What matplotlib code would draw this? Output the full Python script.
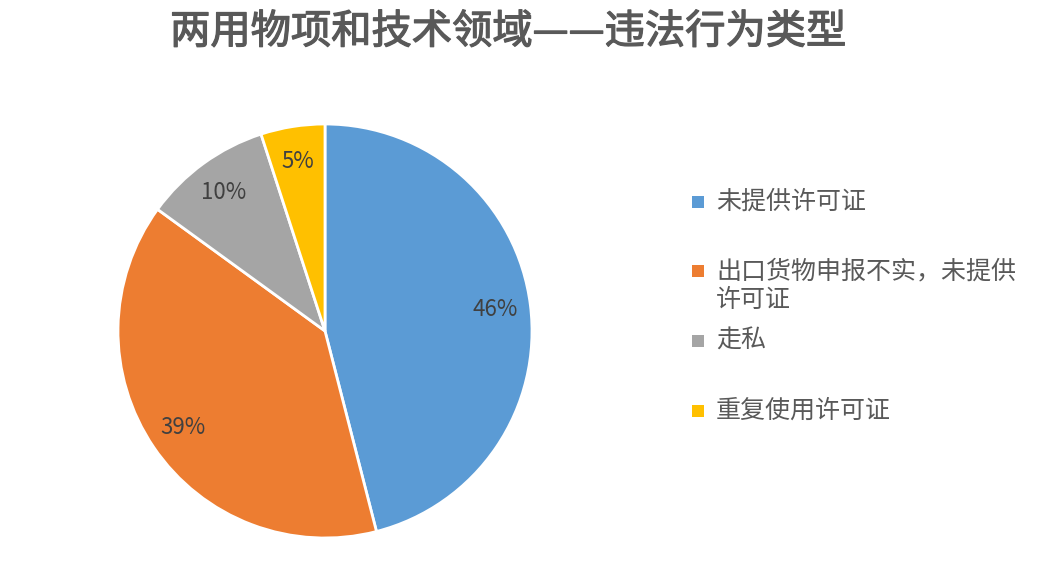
import numpy as np
import matplotlib.pyplot as plt
import matplotlib.patheffects as pe
from matplotlib.patches import Rectangle

plt.rcParams['font.family'] = ['Noto Sans CJK SC', 'DejaVu Sans']

title = '两用物项和技术领域——违法行为类型'
categories = ['未提供许可证', '出口货物申报不实，未提供\n许可证', '走私', '重复使用许可证']
values = [46, 39, 10, 5]
colors = ['#5B9BD5', '#ED7D31', '#A5A5A5', '#FFC000']

W, H = 1040, 578
fig = plt.figure(figsize=(W / 100, H / 100), dpi=100)

# pie axes: centre (325, 331) px, radius ~207 px
cx, cy, r = 325, 331, 207
ax = fig.add_axes([(cx - r) / W, (H - cy - r) / H, 2 * r / W, 2 * r / H])
wedges, texts, autotexts = ax.pie(
    values, colors=colors, startangle=90, counterclock=False,
    autopct='%1.0f%%', pctdistance=0.83,
    wedgeprops=dict(edgecolor='white', linewidth=2),
    textprops=dict(color='#404040', fontsize=16))
ax.set_xlim(-1, 1)
ax.set_ylim(-1, 1)
ax.set_aspect('equal')

fig.text(508 / W, 1 - 32 / H, title, ha='center', va='center',
         fontsize=29, color='#595959',
         path_effects=[pe.withStroke(linewidth=0.9, foreground='#595959')])

# legend drawn by hand, Excel-style spacing
leg_y = [202, 271, 341, 411]
for lab, col, y in zip(categories, colors, leg_y):
    fig.patches.append(Rectangle(((692) / W, 1 - (y + 6) / H), 12 / W, 12 / H,
                                 facecolor=col, edgecolor='none',
                                 transform=fig.transFigure, figure=fig))
    for i, line in enumerate(lab.split('\n')):
        fig.text(716 / W, 1 - (y + i * 29) / H, line, ha='left', va='center',
                 fontsize=18, color='#595959')

fig.savefig('out.png', dpi=100)
